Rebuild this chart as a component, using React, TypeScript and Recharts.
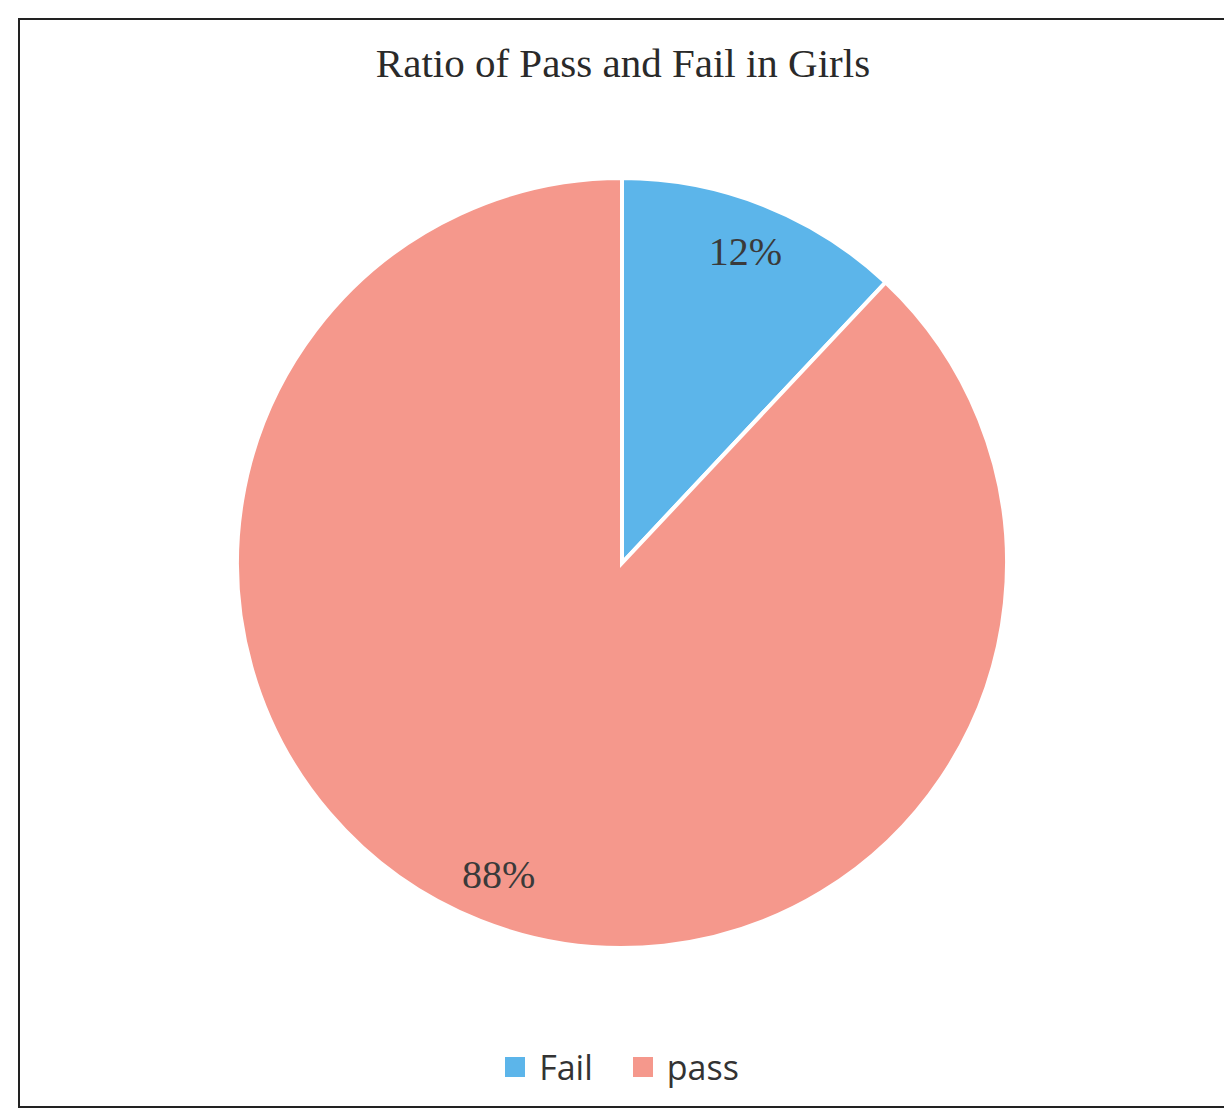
import React from "react";
import { PieChart, Pie, Cell, Legend } from "recharts";

const categories = ["Fail", "pass"];
const shares = [12, 88];
const colors = ["#5CB5EA", "#F5988C"];

const data = categories.map((name, i) => ({ name, value: shares[i] }));

const RADIAN = Math.PI / 180;

const renderLabel = (props: any) => {
  const { cx, cy, midAngle, outerRadius, percent } = props;
  const r = outerRadius * 0.87;
  const x = cx + r * Math.cos(-midAngle * RADIAN);
  const y = cy + r * Math.sin(-midAngle * RADIAN);
  return (
    <text
      x={x}
      y={y}
      textAnchor="middle"
      dominantBaseline="central"
      fill="#3a3a3a"
      fontFamily="'Liberation Serif', serif"
      fontSize={40}
    >
      {`${Math.round(percent * 100)}%`}
    </text>
  );
};

const renderLegend = (props: any) => {
  const { payload } = props;
  return (
    <div style={{ display: "flex", justifyContent: "center", alignItems: "center" }}>
      {payload.map((entry: any, i: number) => (
        <div
          key={entry.value}
          style={{ display: "flex", alignItems: "center", marginLeft: i > 0 ? 40 : 0 }}
        >
          <span style={{ width: 20, height: 20, background: entry.color, display: "inline-block" }} />
          <span
            style={{
              marginLeft: 14,
              fontFamily: "'Open Sans', sans-serif",
              fontSize: 34,
              color: "#333",
              lineHeight: "40px",
            }}
          >
            {entry.value}
          </span>
        </div>
      ))}
    </div>
  );
};

export default function App() {
  return (
    <div
      style={{
        position: "absolute",
        left: 18,
        top: 18,
        width: 1206,
        height: 1090,
        border: "2px solid #222",
        borderRight: "none",
        boxSizing: "border-box",
        background: "#fff",
      }}
    >
      <div
        style={{
          position: "absolute",
          top: 23,
          left: 0,
          width: 1206,
          textAlign: "center",
          fontFamily: "'Liberation Serif', serif",
          fontSize: 41,
          lineHeight: "41px",
          color: "#2a2a2a",
        }}
      >
        Ratio of Pass and Fail in Girls
      </div>
      <PieChart width={1204} height={1086} style={{ position: "absolute", left: 0, top: 0 }}>
        <Pie
          data={data}
          dataKey="value"
          nameKey="name"
          cx={597}
          cy={538}
          outerRadius={385}
          startAngle={90}
          endAngle={-270}
          stroke="#ffffff"
          strokeWidth={4}
          label={renderLabel}
          labelLine={false}
          isAnimationActive={false}
        >
          {data.map((d, i) => (
            <Cell key={d.name} fill={colors[i]} />
          ))}
        </Pie>
        <Legend
          content={renderLegend}
          wrapperStyle={{ position: "absolute", top: 1027, left: 0, width: 1204 }}
        />
      </PieChart>
    </div>
  );
}
